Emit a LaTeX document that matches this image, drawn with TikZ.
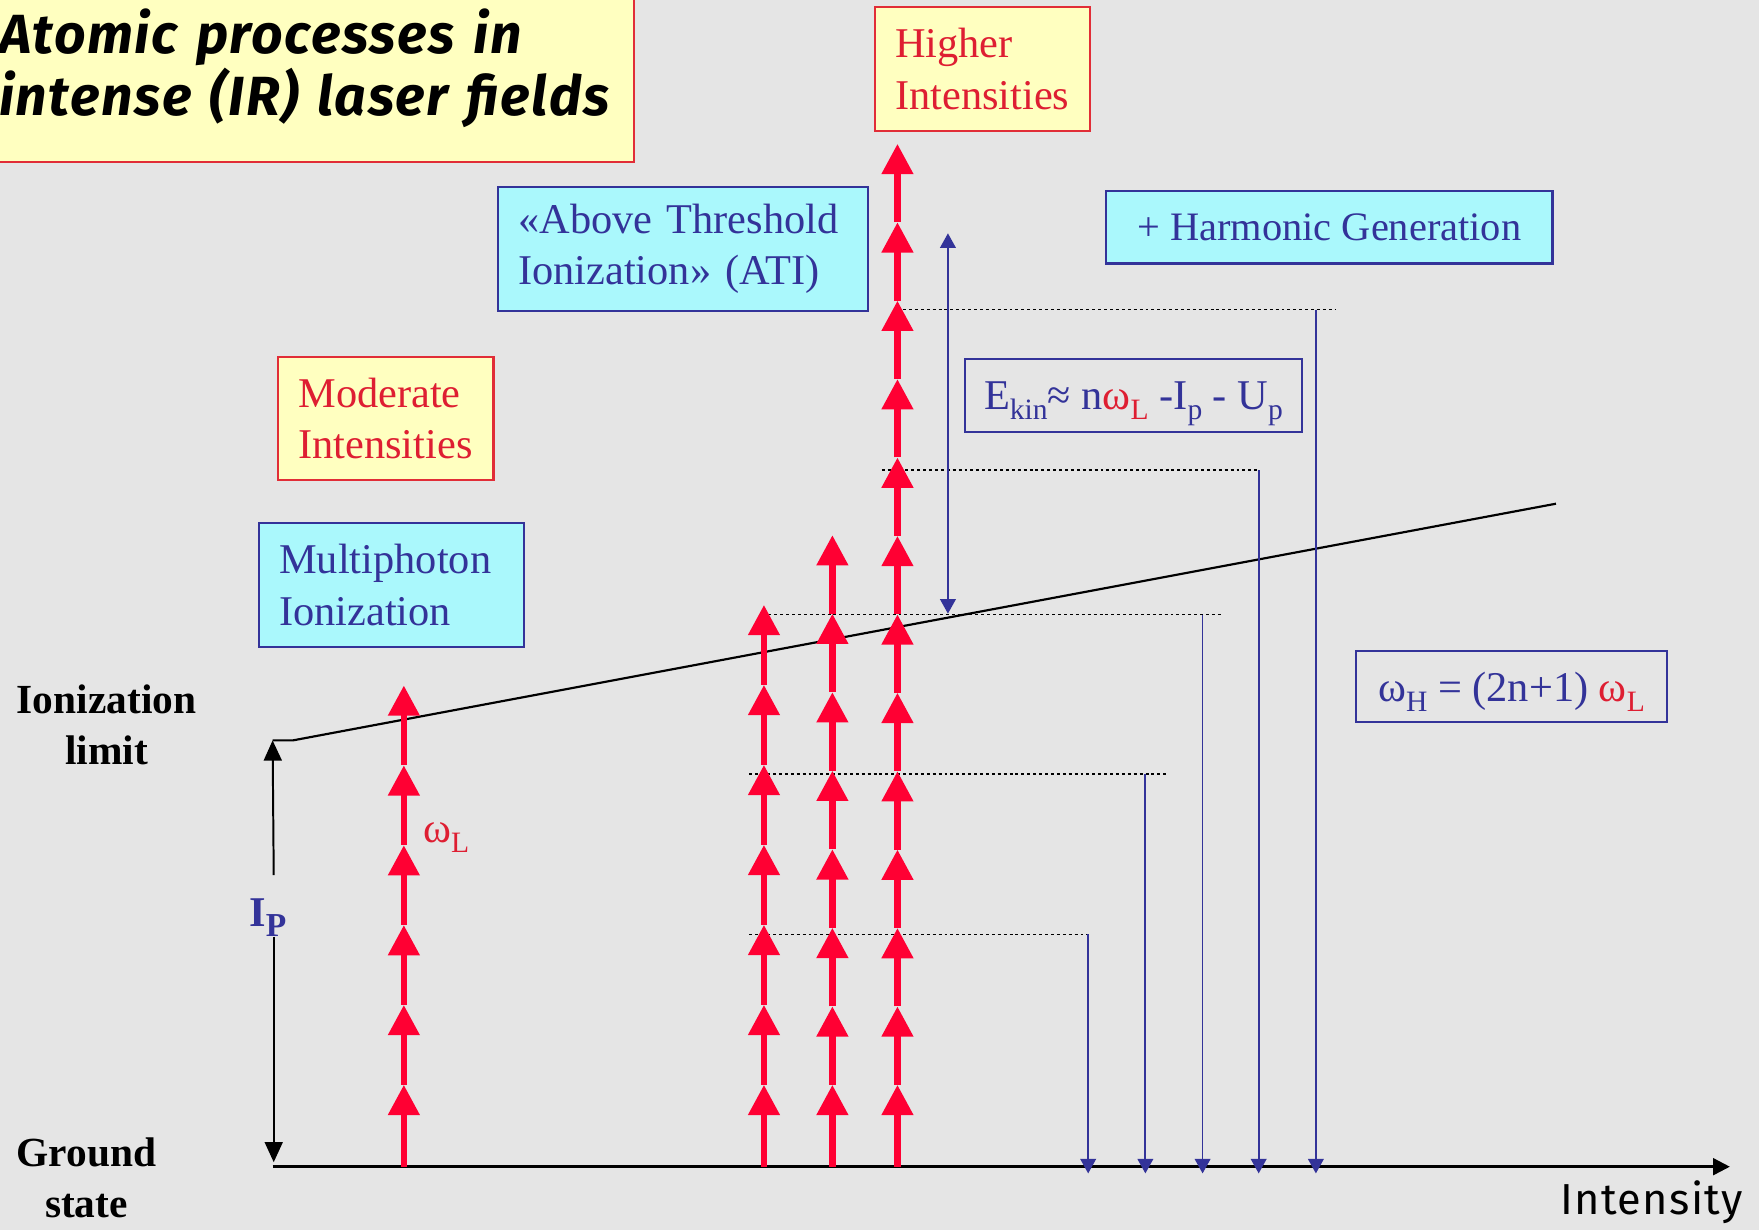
\documentclass[tikz,border=0pt]{standalone}
\usepackage{fontspec}
\setmainfont{Liberation Serif}
\newfontfamily\handfont[LetterSpace=3]{Fira Sans}
\usepackage{tikz}
\usetikzlibrary{positioning,arrows.meta}

\definecolor{bggray}{RGB}{229,229,229}
\definecolor{paleyellow}{RGB}{255,255,192}
\definecolor{framered}{RGB}{225,45,55}
\definecolor{labelred}{RGB}{222,30,50}
\definecolor{photonred}{RGB}{255,0,51}
\definecolor{paleblue}{RGB}{170,248,252}
\definecolor{navy}{RGB}{51,51,153}

\newcommand{\lowsub}[1]{\raisebox{-5pt}{\fontsize{15}{15}\selectfont #1}}
\newcommand{\omL}{\textcolor{labelred}{ω\lowsub{L}}}

\begin{document}
\begin{tikzpicture}[
    x=0.02cm, y=-0.02cm,
    textbox/.style={anchor=north west, inner xsep=0.36cm, inner ysep=0pt, line width=1.1pt, align=left, font=\fontsize{21.5}{26}\selectfont},
    yellowbox/.style={textbox, draw=framered, fill=paleyellow, text=labelred},
    bluebox/.style={textbox, draw=navy, fill=paleblue, text=navy},
    formula/.style={textbox, draw=navy, text=navy, text depth=0pt, inner xsep=0pt},
    levellabel/.style={font=\fontsize{21}{26.2}\selectfont\bfseries, align=center},
    photon/.style={photonred, line width=3.4pt, -{Triangle[length=0.54cm, width=0.54cm]}},
    emission/.style={navy, line width=0.9pt, -{Triangle[length=0.26cm, width=0.28cm]}},
    ipline/.style={line width=1pt, -{Triangle[length=0.36cm, width=0.32cm]}},
    level/.style={black, dash pattern=on 1.5pt off 1.5pt, line width=0.6pt},
]
% Canvas
\fill[bggray] (0,0) rectangle (1568,1096);
\useasboundingbox (0,0) rectangle (1568,1096);

% Title
\node[yellowbox, anchor=south east, text=black, text width=10.96cm, minimum height=3.32cm,
      font=\handfont\fontsize{28}{31.5}\selectfont\bfseries\itshape] (title) at (566,145)
      {Atomic processes in\\intense (IR) laser fields};

% Regimes
\node[yellowbox, text width=3.12cm, minimum height=2.22cm] (higher) at (779,5) {Higher\\Intensities};
\node[bluebox, text width=5.88cm, minimum height=2.2cm] (ati) at (443,166) {«Above Threshold\\Ionization» (ATI)};
\node[bluebox, inner xsep=0pt, minimum width=7.96cm, minimum height=1.3cm, font=\fontsize{20.5}{26}\selectfont] (hhg) at (985,169) {+ Harmonic Generation};
\node[yellowbox, text width=3.12cm, minimum height=2.2cm] (moderate) at (247,317) {Moderate\\Intensities};
\node[bluebox, text width=4.0cm, minimum height=2.22cm] (mpi) at (230,465) {Multiphoton\\Ionization};

% Formulas
\node[formula, minimum width=6.02cm, minimum height=1.3cm] (ekin) at (859,319) {E\lowsub{kin}≈ n\omL{} -I\lowsub{p} - U\lowsub{p}};
\node[formula, minimum width=5.54cm, minimum height=1.28cm] (harm) at (1208,579) {ω\lowsub{H} = (2n+1) \omL};

% Levels
\node[levellabel] (ionlabel) at (95,646) {Ionization\\limit};
\node[levellabel] (groundlabel) at (77,1050) {Ground\\state};
\node[anchor=base west, inner sep=0pt, font=\handfont\fontsize{22}{26}\selectfont] (axislabel) at (1391,1083) {Intensity};

\coordinate (g0) at (243,1040);
\coordinate (gEnd) at (1542,1040);
\coordinate (lim0) at (243,660);
\coordinate (lim1) at (261,660);
\coordinate (limEnd) at (1387,449);
\draw[line width=1.3pt, -{Triangle[length=0.3cm, width=0.3cm]}] (g0) -- (gEnd);
\draw[line width=1.1pt] (lim0) -- (lim1) -- (limEnd);

% Ionization potential
\node[anchor=base west, inner sep=0pt, text=navy, font=\fontsize{21.5}{26}\selectfont\bfseries] (ip) at (222,826)
      {I\raisebox{-5pt}{\fontsize{17}{17}\selectfont P}};
\draw[ipline] (244,780) -- (lim0);
\draw[ipline] (244,835) -- (244,1036);

% Harmonic levels
\foreach \xs/\xe/\yl in {668/972/833, 668/1040/690, 685/1090/548, 786/1123/419, 805/1190/276}
  \draw[level] (\xs,\yl) -- (\xe,\yl);

% Photons
\foreach \x/\n/\d in {360/6/71.2, 681/7/71.3, 742/8/70, 800/13/69.9} {
  \draw[photon] (\x,1040) -- (\x,967);
  \foreach \k in {2,...,\n}
    \draw[photon] (\x,{967-(\k-2)*\d}) -- (\x,{967-(\k-1)*\d});
}
\node[anchor=base west, inner sep=0pt, text=labelred, font=\fontsize{21.5}{26}\selectfont] (omega) at (377,751) {ω\lowsub{L}};

% Emission
\foreach \xa/\yl in {970/833, 1021/690, 1072/548, 1122/419, 1173/276}
  \draw[emission] (\xa,\yl) -- (\xa,1046);
\draw[navy, line width=0.9pt, {Triangle[length=0.26cm, width=0.28cm]}-{Triangle[length=0.26cm, width=0.28cm]}] (845,547) -- (845,208);
\end{tikzpicture}
\end{document}
